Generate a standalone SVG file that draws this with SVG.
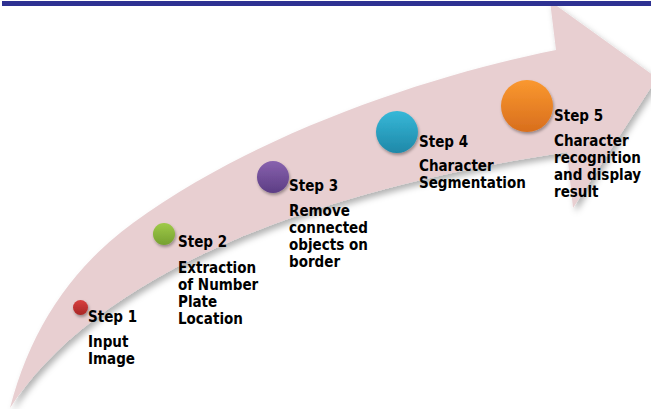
<svg xmlns="http://www.w3.org/2000/svg" width="651" height="409" viewBox="0 0 651 409">
  <defs>
    <filter id="arrowShadow" x="-10%" y="-10%" width="130%" height="130%">
      <feDropShadow dx="3" dy="4" stdDeviation="3" flood-color="#000" flood-opacity="0.3"/>
    </filter>
    <filter id="dotShadow" x="-40%" y="-40%" width="180%" height="180%">
      <feDropShadow dx="1" dy="2" stdDeviation="1.5" flood-color="#000" flood-opacity="0.35"/>
    </filter>
    <linearGradient id="gRed" x1="0" y1="0" x2="0" y2="1">
      <stop offset="0" stop-color="#d8403f"/>
      <stop offset="1" stop-color="#a82626"/>
    </linearGradient>
    <linearGradient id="gGreen" x1="0" y1="0" x2="0" y2="1">
      <stop offset="0" stop-color="#9fca48"/>
      <stop offset="1" stop-color="#76a030"/>
    </linearGradient>
    <linearGradient id="gPurple" x1="0" y1="0" x2="0" y2="1">
      <stop offset="0" stop-color="#8862ae"/>
      <stop offset="1" stop-color="#5c3d84"/>
    </linearGradient>
    <linearGradient id="gTeal" x1="0" y1="0" x2="0" y2="1">
      <stop offset="0" stop-color="#36b8d8"/>
      <stop offset="1" stop-color="#1f88a8"/>
    </linearGradient>
    <linearGradient id="gOrange" x1="0" y1="0" x2="0" y2="1">
      <stop offset="0" stop-color="#fa982f"/>
      <stop offset="1" stop-color="#d86e1d"/>
    </linearGradient>
  </defs>
  <style>
    .lbl { font-family: "DejaVu Sans Condensed", "DejaVu Sans", sans-serif; font-weight: bold; font-size: 15px; fill: #000; }
    .dot { filter: url(#dotShadow); }
  </style>

  <g id="arrow">
    <path filter="url(#arrowShadow)" fill="#e8cfd1"
      d="M10,408 Q40,291 133,223 C253,135 426,76 556,50 L550,1 L657,78 L573,208 L567,152 C250,200 80,300 10,408 Z"/>
  </g>

  <rect id="topbar" x="2" y="1" width="649" height="5" fill="#2e3192"/>

  <g id="connectors"></g>

  <g id="step1">
    <circle class="dot" cx="80.5" cy="307.5" r="7.5" fill="url(#gRed)"/>
    <text class="lbl" x="88" y="322">Step 1</text>
    <text class="lbl" x="88" y="347"><tspan x="88">Input</tspan><tspan x="88" dy="17">Image</tspan></text>
  </g>

  <g id="step2">
    <circle class="dot" cx="164" cy="234" r="11" fill="url(#gGreen)"/>
    <text class="lbl" x="178" y="247">Step 2</text>
    <text class="lbl" x="178" y="273"><tspan x="178">Extraction</tspan><tspan x="178" dy="17">of Number</tspan><tspan x="178" dy="17">Plate</tspan><tspan x="178" dy="17">Location</tspan></text>
  </g>

  <g id="step3">
    <circle class="dot" cx="273" cy="177" r="16" fill="url(#gPurple)"/>
    <text class="lbl" x="289" y="191">Step 3</text>
    <text class="lbl" x="289" y="216"><tspan x="289">Remove</tspan><tspan x="289" dy="17">connected</tspan><tspan x="289" dy="17">objects on</tspan><tspan x="289" dy="17">border</tspan></text>
  </g>

  <g id="step4">
    <circle class="dot" cx="397" cy="132" r="21" fill="url(#gTeal)"/>
    <text class="lbl" x="419" y="147">Step 4</text>
    <text class="lbl" x="419" y="171"><tspan x="419">Character</tspan><tspan x="419" dy="17">Segmentation</tspan></text>
  </g>

  <g id="step5">
    <circle class="dot" cx="527" cy="106" r="26" fill="url(#gOrange)"/>
    <text class="lbl" x="554" y="121">Step 5</text>
    <text class="lbl" x="554" y="146"><tspan x="554">Character</tspan><tspan x="554" dy="17">recognition</tspan><tspan x="554" dy="17">and display</tspan><tspan x="554" dy="17">result</tspan></text>
  </g>
</svg>
